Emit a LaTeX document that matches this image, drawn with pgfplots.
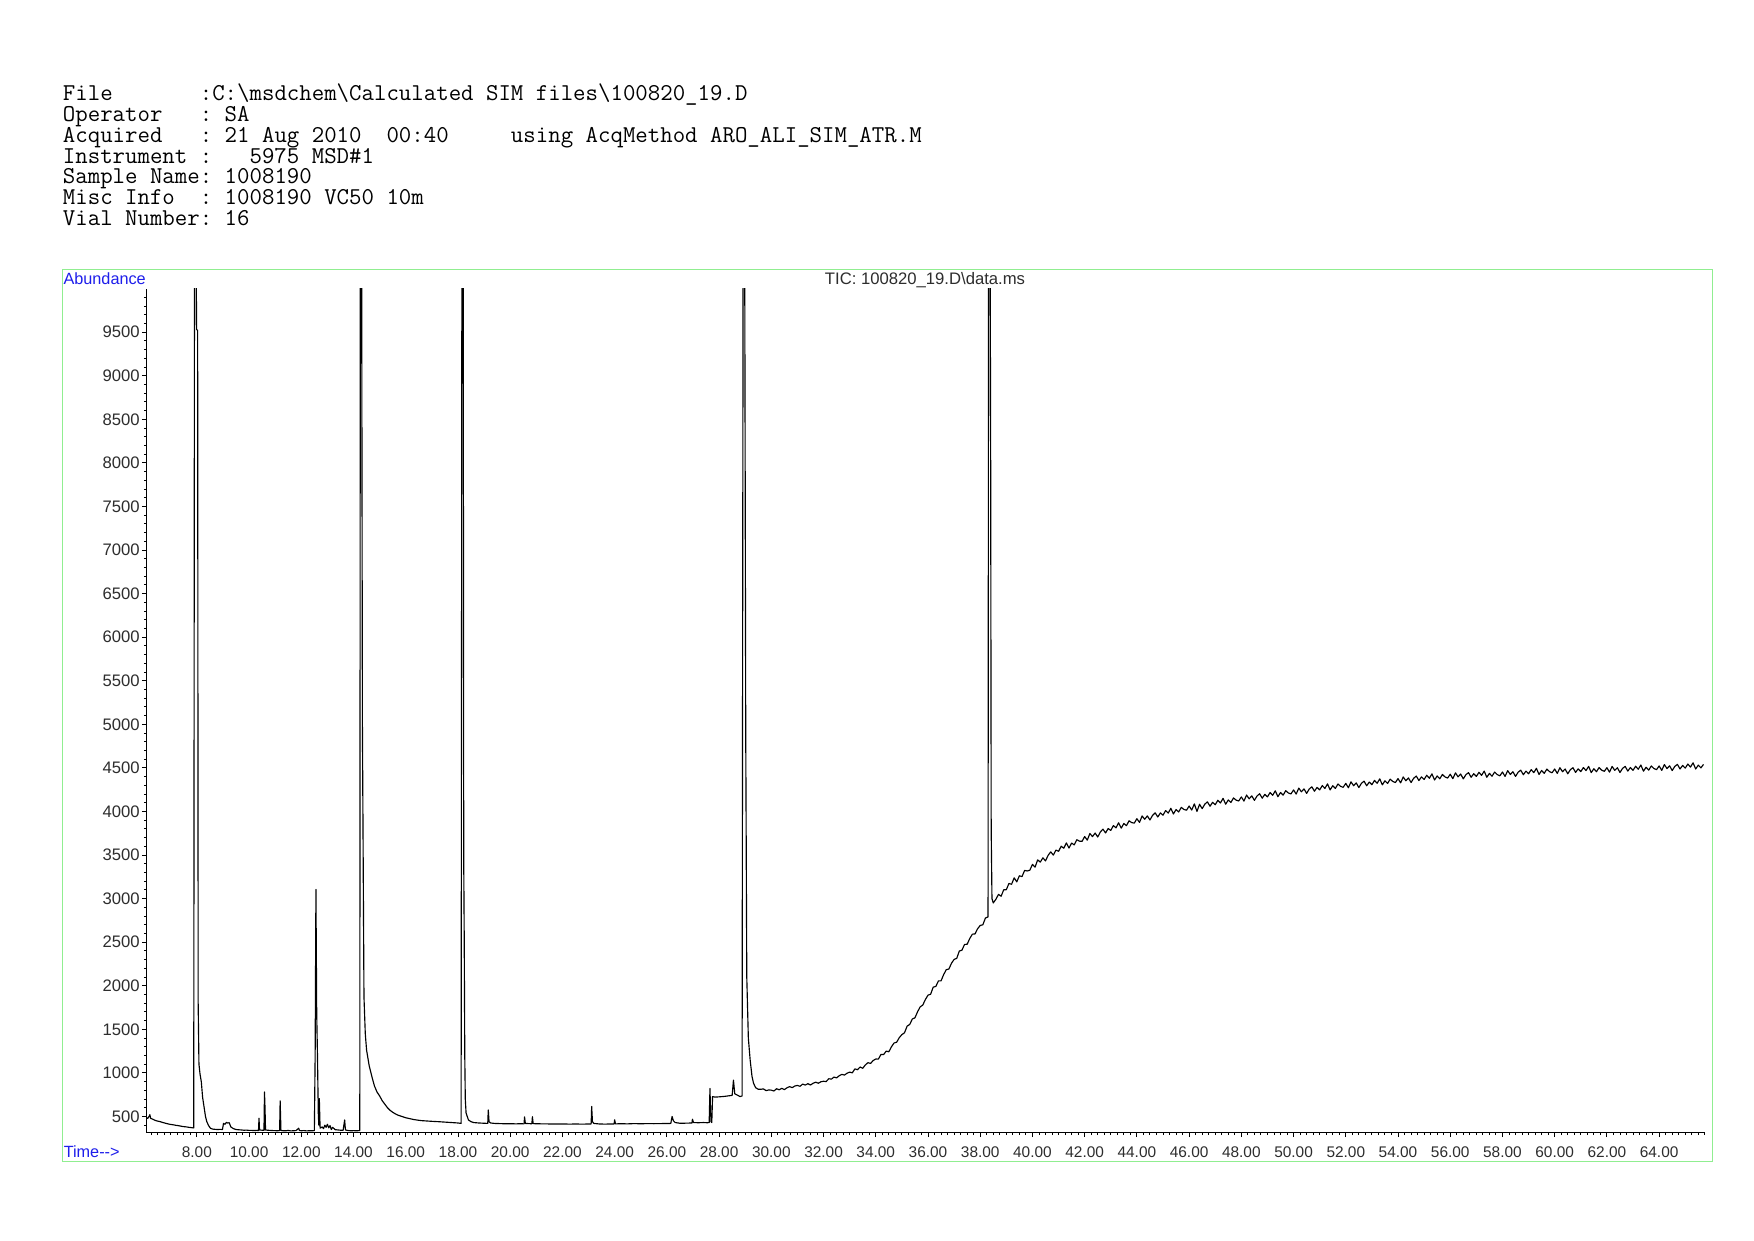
\documentclass[border=0pt]{standalone}
\usepackage{fontspec}
\setmainfont{Liberation Sans}
\usepackage{pgfplots}
\pgfplotsset{compat=1.18}
\definecolor{framegreen}{RGB}{144,238,144}
\definecolor{lblue}{RGB}{30,30,235}
\definecolor{tickgray}{RGB}{45,45,45}
\begin{document}
\begin{tikzpicture}
\fill[white] (0,0) rectangle (841.89pt,-595.28pt);
\draw[framegreen, line width=0.55pt] (29.8pt,-129.3pt) rectangle (821.9pt,-557.5pt);
\begin{scope}[every node/.style={anchor=base west, inner sep=0pt, font=\fontsize{11.6}{12}\ttfamily}]
\node at (30pt,-48.2pt) {File~~~~~~~:C:\textbackslash msdchem\textbackslash Calculated~SIM~files\textbackslash 100820\_19.D};
\node at (30pt,-58.2pt) {Operator~~~:~SA};
\node at (30pt,-68.2pt) {Acquired~~~:~21~Aug~2010~~00:40~~~~~using~AcqMethod~ARO\_ALI\_SIM\_ATR.M};
\node at (30pt,-78.3pt) {Instrument~:~~~5975~MSD\#1};
\node at (30pt,-88.3pt) {Sample~Name:~1008190};
\node at (30pt,-98.3pt) {Misc~Info~~:~1008190~VC50~10m};
\node at (30pt,-108.3pt) {Vial~Number:~16};
\end{scope}
\node[anchor=base west, inner sep=0pt, text=lblue, font=\fontsize{7.8}{9}\selectfont] at (30.3pt,-136.4pt) {Abundance};
\node[anchor=base, inner sep=0pt, text=tickgray, font=\fontsize{8}{9}\selectfont] at (444pt,-136.6pt) {TIC: 100820\_19.D\textbackslash data.ms};
\node[anchor=base west, inner sep=0pt, text=lblue, font=\fontsize{7.8}{9}\selectfont] at (30.4pt,-555.4pt) {Time-{}->};
\begin{axis}[
 at={(70.3pt,-543.6pt)}, anchor=south west,
 scale only axis, width=748.1pt, height=405.1pt,
 xmin=6.07, xmax=65.76, ymin=315, ymax=10000,
 scaled y ticks=false, scaled x ticks=false,
 axis x line*=bottom, axis y line*=left,
 axis line style={-, line width=0.5pt, black},
 every tick/.style={black, line width=0.45pt},
 tick align=outside,
 major tick length=2.2pt, minor tick length=1.2pt,
 xtick={8,10,...,64},
 xticklabels={8.00,10.00,12.00,14.00,16.00,18.00,20.00,22.00,24.00,26.00,28.00,30.00,32.00,34.00,36.00,38.00,40.00,42.00,44.00,46.00,48.00,50.00,52.00,54.00,56.00,58.00,60.00,62.00,64.00},
 minor xtick={6.25,6.5,...,65.75},
 ytick={500,1000,...,9500},
 yticklabels={500,1000,1500,2000,2500,3000,3500,4000,4500,5000,5500,6000,6500,7000,7500,8000,8500,9000,9500},
 minor ytick={400,500,...,9900},
 xticklabel style={font=\fontsize{7.4}{8}\selectfont, text=tickgray, inner sep=0pt, anchor=north},
 yticklabel style={font=\fontsize{8}{9}\selectfont, text=tickgray, inner sep=0pt, anchor=east},
 xticklabel shift=4.35pt,
 yticklabel shift=0.9pt,
 clip=true,
]
\addplot[black, line width=0.55pt, line join=round, mark=none] table {
t v
6.07 485
6.12 478
6.18 505
6.20 520
6.23 478
6.30 470
6.40 455
6.50 446
6.60 440
6.70 430
6.80 422
6.90 414
7.00 408
7.10 404
7.20 398
7.30 394
7.40 388
7.50 383
7.60 380
7.70 375
7.80 371
7.88 368
7.91 10500
7.97 10500
7.99 9530
8.03 9520
8.05 1800
8.08 1100
8.12 990
8.17 900
8.22 720
8.28 600
8.33 500
8.38 440
8.45 395
8.52 365
8.60 355
8.70 352
8.80 350
8.90 352
8.98 350
9.02 420
9.08 410
9.13 432
9.18 425
9.24 428
9.30 380
9.40 360
9.50 350
9.60 347
9.70 345
9.80 342
9.90 343
10.00 340
10.10 340
10.20 338
10.30 340
10.36 338
10.38 480
10.40 345
10.50 342
10.57 340
10.59 780
10.61 600
10.63 345
10.70 342
10.80 340
10.90 338
11.00 337
11.10 336
11.17 338
11.19 680
11.22 340
11.30 336
11.40 335
11.50 340
11.60 334
11.70 336
11.80 338
11.90 365
11.93 338
12.00 336
12.10 338
12.20 334
12.30 336
12.40 335
12.50 338
12.53 1200
12.56 3105
12.59 1680
12.62 1180
12.65 540
12.67 400
12.69 705
12.72 365
12.80 380
12.85 360
12.90 400
12.95 375
13.00 410
13.05 370
13.10 395
13.15 350
13.20 375
13.30 348
13.40 345
13.50 342
13.60 340
13.66 460
13.69 345
13.80 338
13.90 336
14.00 337
14.10 336
14.20 337
14.24 338
14.26 10500
14.31 10500
14.34 5000
14.40 1870
14.45 1450
14.50 1260
14.60 1080
14.70 960
14.80 850
14.90 780
15.00 735
15.10 680
15.20 640
15.30 600
15.40 570
15.50 548
15.60 530
15.70 515
15.80 505
15.90 495
16.00 485
16.15 475
16.30 465
16.45 458
16.60 452
16.80 448
17.00 444
17.25 440
17.50 435
17.75 430
18.00 425
18.12 420
18.15 10500
18.20 10500
18.22 3450
18.24 2500
18.26 1200
18.28 700
18.31 540
18.40 460
18.50 440
18.60 430
18.80 425
19.00 422
19.14 420
19.16 575
19.19 440
19.25 425
19.40 420
19.60 418
19.80 416
20.00 417
20.20 415
20.40 416
20.53 415
20.55 495
20.58 420
20.70 418
20.83 416
20.85 497
20.88 418
21.00 416
21.25 415
21.50 414
21.75 413
22.00 414
22.25 412
22.50 413
22.75 412
23.00 413
23.10 414
23.12 615
23.15 440
23.20 420
23.40 414
23.60 412
23.80 413
23.98 414
24.00 462
24.03 415
24.25 416
24.50 415
24.75 418
25.00 416
25.25 418
25.50 417
25.75 418
26.00 419
26.15 420
26.20 500
26.25 450
26.32 430
26.50 422
26.75 423
26.96 425
26.98 468
27.02 430
27.20 428
27.40 430
27.55 428
27.62 430
27.65 822
27.67 600
27.69 440
27.72 430
27.75 727
27.85 722
28.00 725
28.20 730
28.40 738
28.50 742
28.55 917
28.60 760
28.70 745
28.80 728
28.88 735
28.92 10500
28.98 10500
29.02 4900
29.06 2100
29.12 1400
29.19 1146
29.26 960
29.32 880
29.40 830
29.50 812
29.6 812
29.7 816
29.8 796
29.9 804
30.0 802
30.1 792
30.2 818
30.3 806
30.4 823
30.5 808
30.6 829
30.7 842
30.8 831
30.9 849
31.0 856
31.1 846
31.2 871
31.3 860
31.4 876
31.5 861
31.6 881
31.7 893
31.8 881
31.9 898
32.0 904
32.1 900
32.2 933
32.3 928
32.4 952
32.5 943
32.6 967
32.7 983
32.8 975
32.9 996
33.0 1009
33.1 1000
33.2 1046
33.3 1036
33.4 1068
33.5 1052
33.6 1091
33.7 1117
33.8 1108
33.9 1142
34.0 1159
34.1 1158
34.2 1212
34.3 1210
34.4 1250
34.5 1242
34.6 1299
34.7 1343
34.8 1352
34.9 1404
35.0 1439
35.1 1460
35.2 1536
35.3 1556
35.4 1618
35.5 1632
35.6 1701
35.7 1757
35.8 1778
35.9 1842
36.0 1892
36.1 1902
36.2 1984
36.3 1992
36.4 2056
36.5 2056
36.6 2128
36.7 2184
36.8 2192
36.9 2258
37.0 2302
37.1 2314
37.2 2398
37.3 2408
37.4 2474
37.5 2476
37.6 2542
37.7 2592
37.8 2594
37.9 2654
38.0 2692
38.1 2699
38.2 2777
38.30 2790
38.32 10500
38.38 10500
38.40 8100
38.42 3800
38.45 3000
38.50 2950
38.6 2992
38.7 3048
38.8 3027
38.9 3101
39.0 3102
39.1 3174
39.2 3164
39.3 3238
39.4 3192
39.5 3262
39.6 3252
39.7 3323
39.8 3317
39.9 3326
40.0 3392
40.1 3360
40.2 3445
40.3 3418
40.4 3468
40.5 3432
40.6 3496
40.7 3536
40.8 3499
40.9 3557
41.0 3542
41.1 3601
41.2 3578
41.3 3639
41.4 3580
41.5 3637
41.6 3616
41.7 3676
41.8 3659
41.9 3657
42.0 3712
42.1 3671
42.2 3747
42.3 3711
42.4 3752
42.5 3707
42.6 3764
42.7 3797
42.8 3753
42.9 3804
43.0 3782
43.1 3838
43.2 3812
43.3 3870
43.4 3808
43.5 3862
43.6 3837
43.7 3893
43.8 3872
43.9 3866
44.0 3917
44.1 3874
44.2 3948
44.3 3910
44.4 3949
44.5 3902
44.6 3955
44.7 3984
44.8 3936
44.9 3983
45.0 3957
45.1 4010
45.2 3981
45.3 4036
45.4 3971
45.5 4022
45.6 3994
45.7 4047
45.8 4023
45.9 4014
46.0 4062
46.1 4016
46.2 4087
46.3 4000
46.4 4082
46.5 4032
46.6 4083
46.7 4110
46.8 4060
46.9 4105
47.0 4077
47.1 4128
47.2 4097
47.3 4150
47.4 4083
47.5 4132
47.6 4103
47.7 4155
47.8 4130
47.9 4120
48.0 4167
48.1 4119
48.2 4188
48.3 4145
48.4 4179
48.5 4127
48.6 4177
48.7 4203
48.8 4152
48.9 4196
49.0 4167
49.1 4217
49.2 4185
49.3 4237
49.4 4169
49.5 4217
49.6 4187
49.7 4238
49.8 4212
49.9 4201
50.0 4247
50.1 4199
50.2 4268
50.3 4225
50.4 4259
50.5 4207
50.6 4257
50.7 4283
50.8 4232
50.9 4276
51.0 4247
51.1 4297
51.2 4264
51.3 4316
51.4 4247
51.5 4295
51.6 4264
51.7 4315
51.8 4288
51.9 4277
52.0 4322
52.1 4272
52.2 4340
52.3 4295
52.4 4328
52.5 4274
52.6 4323
52.7 4347
52.8 4295
52.9 4337
53.0 4307
53.1 4356
53.2 4323
53.3 4374
53.4 4305
53.5 4352
53.6 4321
53.7 4371
53.8 4344
53.9 4332
54.0 4377
54.1 4328
54.2 4396
54.3 4352
54.4 4385
54.5 4332
54.6 4381
54.7 4406
54.8 4354
54.9 4397
55.0 4367
55.1 4415
55.2 4381
55.3 4431
55.4 4361
55.5 4407
55.6 4375
55.7 4424
55.8 4396
55.9 4383
56.0 4427
56.1 4376
56.2 4443
56.3 4397
56.4 4429
56.5 4374
56.6 4422
56.7 4445
56.8 4392
56.9 4433
57.0 4402
57.1 4449
57.2 4414
57.3 4463
57.4 4392
57.5 4437
57.6 4404
57.7 4452
57.8 4423
57.9 4409
58.0 4452
58.1 4402
58.2 4469
58.3 4424
58.4 4456
58.5 4402
58.6 4450
58.7 4474
58.8 4421
58.9 4463
59.0 4432
59.1 4480
59.2 4445
59.3 4495
59.4 4424
59.5 4470
59.6 4437
59.7 4486
59.8 4457
59.9 4444
60.0 4487
60.1 4436
60.2 4502
60.3 4456
60.4 4487
60.5 4432
60.6 4479
60.7 4502
60.8 4448
60.9 4489
61.0 4457
61.1 4504
61.2 4469
61.3 4517
61.4 4446
61.5 4490
61.6 4456
61.7 4504
61.8 4474
61.9 4460
62.0 4502
62.1 4451
62.2 4517
62.3 4471
62.4 4502
62.5 4447
62.6 4494
62.7 4517
62.8 4463
62.9 4504
63.0 4472
63.1 4519
63.2 4484
63.3 4533
63.4 4462
63.5 4507
63.6 4474
63.7 4522
63.8 4493
63.9 4479
64.0 4522
64.1 4471
64.2 4538
64.3 4492
64.4 4524
64.5 4469
64.6 4517
64.7 4540
64.8 4487
64.9 4528
65.0 4497
65.1 4544
65.2 4509
65.3 4558
65.4 4487
65.5 4532
65.6 4500
65.7 4540
};
\end{axis}
\end{tikzpicture}
\end{document}
